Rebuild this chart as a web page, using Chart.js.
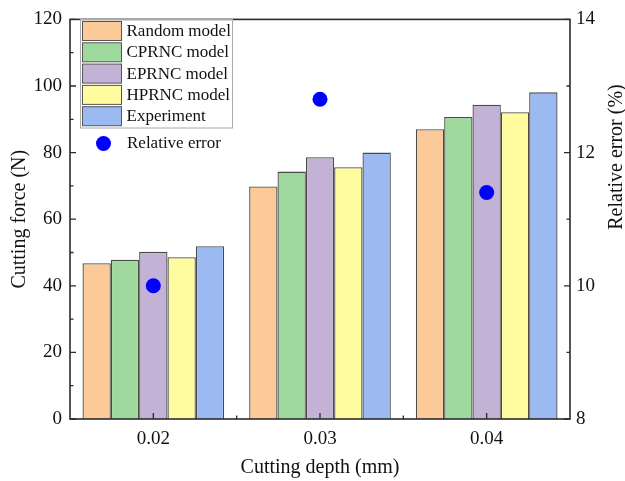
<!DOCTYPE html>
<html>
<head>
<meta charset="utf-8">
<script src="https://cdn.jsdelivr.net/npm/chart.js@4.4.0/dist/chart.umd.min.js"></script>
<style>
  body { margin: 0; background: #fff; }
  #wrap { width: 625px; height: 481px; position: relative; }
</style>
</head>
<body>
<div id="wrap"><canvas id="forceChart"></canvas></div>
<script>
// cutting depth categories (mm)
const depths = ["0.02", "0.03", "0.04"];

// cutting force (N) per model
const randomModel = [46.8, 69.8, 87.0];
const cprncModel = [47.8, 74.3, 90.7];
const eprncModel = [50.2, 78.6, 94.4];
const hprncModel = [48.6, 75.6, 92.1];
const experiment = [51.9, 80.0, 98.1];

// relative error (%)
const relativeError = [10.0, 12.8, 11.4];

const FONT = "'Liberation Serif', 'Times New Roman', serif";
const AXIS = "#2b2b2b";

function barSet(label, data, color) {
    return {
        type: "bar",
        label: label,
        data: data,
        backgroundColor: color,
        borderColor: "#4a4a4a",
        borderWidth: 1.3,
        yAxisID: "y",
        categoryPercentage: 0.85,
        barPercentage: 1.0,
        order: 2
    };
}

// frame, inward ticks, legend and right title
const decorations = {
    id: "decorations",
    afterDraw(chart) {
        const ctx = chart.ctx;
        const area = chart.chartArea;
        const x = chart.scales.x, y = chart.scales.y, y1 = chart.scales.y1;
        ctx.save();
        ctx.strokeStyle = AXIS;
        ctx.lineWidth = 1.6;
        ctx.strokeRect(area.left, area.top, area.right - area.left, area.bottom - area.top);

        ctx.lineWidth = 1.3;
        ctx.beginPath();
        // left axis ticks
        for (let v = 0; v <= 120; v += 10) {
            const py = y.getPixelForValue(v);
            const len = v % 20 === 0 ? 6 : 3.5;
            ctx.moveTo(area.left, py);
            ctx.lineTo(area.left + len, py);
        }
        // right axis ticks
        for (let v = 8; v <= 14; v += 1) {
            const py = y1.getPixelForValue(v);
            const len = v % 2 === 0 ? 6 : 3.5;
            ctx.moveTo(area.right, py);
            ctx.lineTo(area.right - len, py);
        }
        // bottom axis ticks
        depths.forEach((d, i) => {
            const px = x.getPixelForValue(i);
            ctx.moveTo(px, area.bottom);
            ctx.lineTo(px, area.bottom - 6);
            if (i > 0) {
                const mx = (px + x.getPixelForValue(i - 1)) / 2;
                ctx.moveTo(mx, area.bottom);
                ctx.lineTo(mx, area.bottom - 3.5);
            }
        });
        ctx.stroke();

        // legend
        const bars = chart.data.datasets.filter(d => d.type === "bar");
        const lx = 80.5, ly = 19.5, rowH = 21.3;
        ctx.strokeStyle = "#aaa";
        ctx.lineWidth = 1;
        ctx.strokeRect(lx, ly, 152, rowH * bars.length + 2);
        ctx.font = "17px " + FONT;
        ctx.textBaseline = "middle";
        bars.forEach((ds, i) => {
            const ry = ly + 2 + i * rowH;
            ctx.fillStyle = ds.backgroundColor;
            ctx.fillRect(lx + 2, ry, 39, 19);
            ctx.strokeStyle = "#555";
            ctx.strokeRect(lx + 2, ry, 39, 19);
            ctx.fillStyle = "#111";
            ctx.fillText(ds.label, lx + 46, ry + 10);
        });
        const err = chart.data.datasets.find(d => d.type === "line");
        ctx.fillStyle = err.backgroundColor;
        ctx.beginPath();
        ctx.arc(103.5, 143.5, 7.5, 0, Math.PI * 2);
        ctx.fill();
        ctx.fillStyle = "#111";
        ctx.fillText(err.label, 127, 144);

        // right axis title
        ctx.translate(617, 157);
        ctx.rotate(-Math.PI / 2);
        ctx.textAlign = "center";
        ctx.font = "20px " + FONT;
        ctx.fillText("Relative error (%)", 0, 0);
        ctx.restore();
    }
};

new Chart(document.getElementById("forceChart"), {
    data: {
        labels: depths,
        datasets: [
            barSet("Random model", randomModel, "#FCC999"),
            barSet("CPRNC model", cprncModel, "#A0D99E"),
            barSet("EPRNC model", eprncModel, "#C3B2D6"),
            barSet("HPRNC model", hprncModel, "#FEFC9E"),
            barSet("Experiment", experiment, "#9BBAF1"),
            {
                type: "line",
                label: "Relative error",
                data: relativeError,
                yAxisID: "y1",
                showLine: false,
                pointRadius: 7.5,
                pointHoverRadius: 7.5,
                backgroundColor: "#0000FF",
                borderColor: "#0000FF",
                borderWidth: 0,
                order: 1
            }
        ]
    },
    options: {
        responsive: true,
        maintainAspectRatio: false,
        animation: false,
        layout: { padding: { top: 17, left: 0, right: 0, bottom: 0 } },
        plugins: {
            legend: { display: false },
            tooltip: { enabled: false }
        },
        scales: {
            x: {
                grid: { display: false, drawTicks: false },
                border: { display: false },
                ticks: { font: { family: FONT, size: 19 }, color: "#111", padding: 9 },
                title: {
                    display: true,
                    text: "Cutting depth (mm)",
                    font: { family: FONT, size: 20 },
                    color: "#111",
                    padding: { top: 2, bottom: 1 }
                },
                afterFit(scale) { scale.height = 62; }
            },
            y: {
                position: "left",
                min: 0,
                max: 120,
                grid: { display: false, drawTicks: false },
                border: { display: false },
                ticks: { stepSize: 20, font: { family: FONT, size: 19 }, color: "#111", padding: 8 },
                title: {
                    display: true,
                    text: "Cutting force (N)",
                    font: { family: FONT, size: 20 },
                    color: "#111",
                    padding: { top: 8, bottom: 0 }
                },
                afterFit(scale) { scale.width = 70; }
            },
            y1: {
                position: "right",
                min: 8,
                max: 14,
                grid: { display: false, drawTicks: false },
                border: { display: false },
                ticks: { stepSize: 2, font: { family: FONT, size: 19 }, color: "#111", padding: 6 },
                afterFit(scale) { scale.width = 55; }
            }
        }
    },
    plugins: [decorations]
});
</script>
</body>
</html>
